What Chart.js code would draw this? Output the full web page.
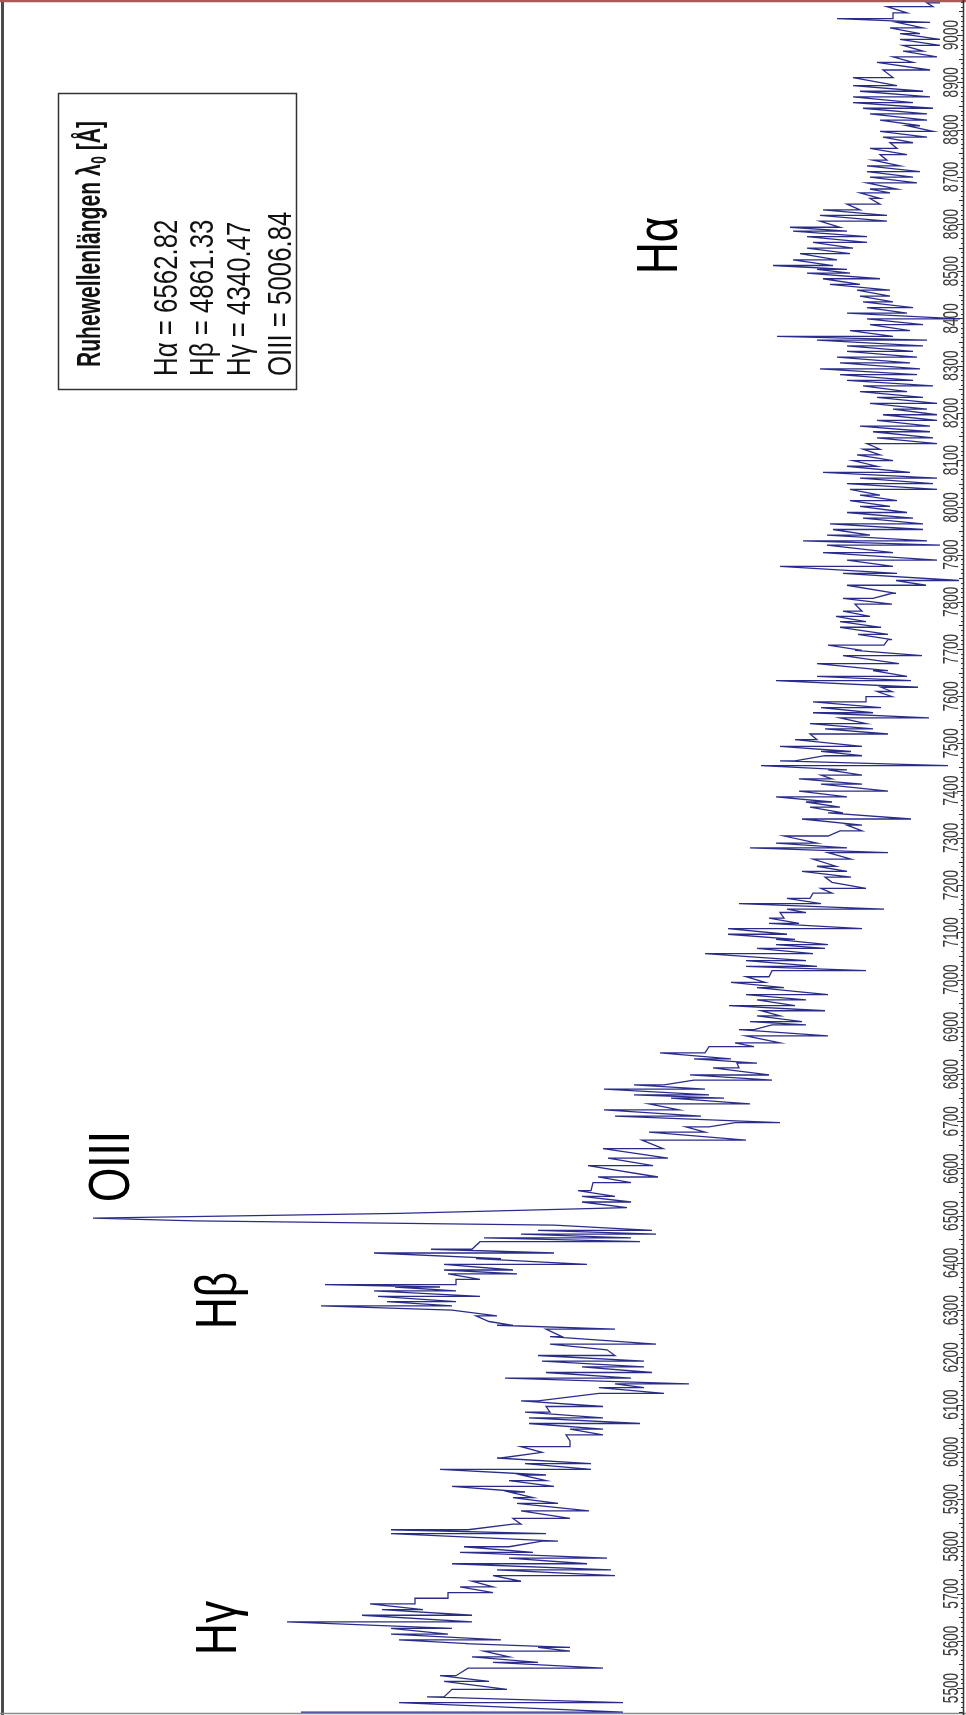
<!DOCTYPE html>
<html>
<head>
<meta charset="utf-8">
<script src="https://cdn.jsdelivr.net/npm/chart.js@4.4.1/dist/chart.umd.min.js"></script>
<style>
  html, body { margin: 0; padding: 0; background: #fff; }
  canvas { display: block; }
</style>
</head>
<body>
<canvas id="spectrum" width="966" height="1715"></canvas>
<script>
// Spectrum, one row per wavelength step:
// wavelength [Å], the high (left) and the low (right) flux of the jitter in that row (arbitrary units)
const lambdaRows = [
  5449, 5469, 5481, 5497, 5514, 5526, 5542, 5554, 5566, 5578, 5586, 5594, 5602, 5614, 5626, 5640,
  5654, 5666, 5678, 5690, 5702, 5714, 5726, 5738, 5750, 5763, 5775, 5787, 5799, 5811, 5827, 5835,
  5847, 5859, 5875, 5891, 5903, 5915, 5927, 5939, 5951, 5963, 5975, 5987, 5999, 6011, 6023, 6036,
  6048, 6060, 6072, 6084, 6096, 6108, 6124, 6136, 6144, 6156, 6168, 6180, 6192, 6204, 6216, 6228,
  6244, 6260, 6268, 6276, 6288, 6300, 6309, 6318, 6329, 6341, 6349, 6354, 6365, 6377, 6385, 6397,
  6409, 6421, 6429, 6445, 6453, 6461, 6469, 6480, 6489, 6495, 6505, 6517, 6529, 6541, 6553, 6570,
  6582, 6606, 6622, 6642,
  6660, 6677, 6688, 6697, 6711, 6724, 6737, 6749, 6756, 6768, 6777, 6787, 6798, 6813, 6823, 6832,
  6845, 6858, 6866, 6881, 6894, 6904, 6911, 6923, 6934, 6945, 6957, 6968, 6983, 6994, 7006, 7019,
  7028, 7040, 7055, 7066, 7074, 7085, 7096, 7108, 7119, 7130, 7142, 7149, 7161, 7172, 7183, 7193,
  7206, 7217, 7229, 7240, 7255, 7269, 7279, 7289, 7304, 7315, 7327, 7340, 7353, 7365, 7376, 7387,
  7399, 7414, 7425, 7433, 7444, 7453, 7463, 7474, 7483, 7494, 7508, 7520, 7531, 7542, 7554, 7565,
  7576, 7588, 7599, 7610, 7619, 7633, 7642, 7654, 7669, 7686, 7697, 7708, 7720, 7731, 7746, 7758,
  7769, 7780, 7795, 7807, 7818, 7835, 7845,
  7860, 7875, 7888, 7904, 7920, 7929, 7941, 7953, 7965, 7977, 7989, 8002, 8014, 8026, 8038, 8050,
  8062, 8074, 8087, 8099, 8111, 8123, 8135, 8147, 8160, 8172, 8184, 8196, 8208, 8220, 8233, 8245,
  8257, 8269, 8281, 8293, 8306, 8318, 8330, 8342, 8354, 8362, 8374, 8387, 8399, 8411, 8423, 8435,
  8447, 8460, 8472, 8484, 8496, 8504, 8512, 8524, 8537, 8549, 8561, 8573, 8585, 8593, 8606, 8618,
  8630, 8642, 8654, 8666, 8674, 8687, 8699, 8711, 8723, 8735, 8747, 8760, 8772, 8784, 8796, 8808,
  8820, 8833, 8845, 8857, 8869, 8881, 8893, 8910, 8926, 8942, 8954, 8966, 8978, 8991, 9003, 9015,
  9027, 9035, 9047, 9060, 9068
];
const fluxHigh = [
  66.2, 56.4, 53.6, 51.1, 51.9, 52.3, 49.5, 47.0, 49.1, 47.9, 42.5, 49.9, 56.4, 57.2, 57.2, 67.6,
  60.1, 58.1, 59.3, 54.8, 51.5, 50.3, 49.1, 47.0, 46.6, 51.1, 45.4, 50.3, 49.9, 42.1, 57.2, 57.2,
  45.0, 45.0, 44.2, 44.6, 45.0, 45.4, 51.1, 45.4, 44.2, 52.3, 43.8, 46.6, 42.1, 44.2, 39.3, 39.7,
  39.3, 43.4, 43.4, 43.8, 41.7, 44.2, 36.4, 36.4, 34.8, 45.8, 41.7, 38.1, 42.1, 42.5, 35.6, 41.3,
  41.3, 41.7, 46.6, 47.4, 48.7, 51.1, 64.2, 57.6, 58.5, 58.9, 56.8, 63.8, 50.7, 51.5, 51.9, 51.9,
  48.7, 58.9, 53.2, 48.3, 47.9, 44.2, 42.5, 40.9, 76.8, 87.0, 56.4, 33.6, 38.1, 38.1, 38.5, 37.0,
  36.5, 37.5, 35.5, 36.0,
  32.1, 31.4, 27.7, 22.8, 34.8, 35.9, 31.4, 29.2, 32.9, 35.9, 32.9, 26.9, 27.3, 25.0, 22.6, 26.9,
  30.3, 25.4, 22.8, 21.7, 22.4, 19.1, 21.3, 20.6, 20.2, 23.4, 20.6, 21.7, 20.6, 23.2, 21.7, 19.1,
  21.7, 21.7, 25.8, 20.6, 18.7, 18.7, 23.5, 23.5, 19.4, 19.4, 18.3, 17.6, 22.4, 17.6, 15.0, 14.2,
  13.1, 13.8, 16.1, 14.6, 15.0, 13.5, 21.3, 18.7, 17.9, 12.3, 11.6, 16.1, 13.5, 15.3, 15.7, 18.7,
  16.4, 14.2, 16.4, 14.2, 13.5, 20.2, 18.3, 13.8, 14.2, 18.3, 16.8, 15.3, 13.8, 15.3, 12.3, 15.0,
  14.2, 15.0, 9.7, 8.6, 8.2, 18.7, 14.6, 9.0, 14.6, 12.0, 10.8, 13.5, 7.5, 10.5, 12.3, 12.3,
  12.7, 12.0, 10.8, 12.0, 7.1, 11.6, 6.7,
  12.0, 18.3, 11.6, 14.0, 13.6, 16.0, 13.6, 13.0, 13.3, 10.0, 11.6, 10.3, 11.3, 10.3, 11.3, 11.6,
  10.3, 14.0, 11.6, 11.0, 10.6, 10.0, 9.6, 8.6, 9.0, 10.3, 8.6, 8.0, 7.0, 9.3, 8.6, 10.3,
  10.0, 11.6, 12.3, 14.3, 12.3, 12.6, 11.6, 11.6, 14.6, 18.6, 11.3, 9.3, 9.6, 11.6, 9.6, 10.0,
  10.3, 10.6, 13.3, 14.0, 15.6, 14.6, 19.0, 17.0, 16.3, 15.6, 15.0, 15.6, 17.0, 17.3, 14.3, 14.3,
  14.0, 11.6, 9.3, 10.3, 9.3, 9.6, 9.3, 9.6, 9.6, 9.0, 8.3, 9.3, 7.3, 8.0, 8.3, 5.6,
  8.3, 9.3, 10.0, 11.0, 11.0, 10.3, 11.0, 11.0, 8.0, 8.6, 7.0, 6.0, 6.0, 6.3, 6.3, 7.3,
  6.6, 12.6, 7.0, 7.6, 3.6
];
const fluxLow = [
  34.0, 34.0, 51.9, 45.6, 47.4, 50.7, 36.0, 42.5, 45.4, 39.3, 39.3, 49.5, 46.2, 51.5, 51.1, 49.1,
  49.1, 54.0, 54.8, 51.5, 47.0, 47.0, 44.2, 34.8, 35.2, 37.6, 35.6, 43.0, 45.4, 40.5, 41.7, 49.5,
  44.2, 39.3, 37.4, 40.5, 43.0, 43.8, 40.9, 41.7, 41.7, 37.2, 37.2, 46.2, 42.1, 39.3, 39.3, 36.0,
  36.0, 32.3, 36.0, 41.3, 36.0, 42.5, 29.9, 31.9, 27.4, 33.2, 31.1, 31.9, 31.9, 34.8, 35.6, 30.7,
  40.1, 34.8, 45.0, 47.4, 46.6, 51.1, 51.1, 50.7, 48.3, 50.7, 52.3, 50.7, 48.3, 44.6, 45.0, 37.6,
  46.2, 40.9, 49.1, 32.3, 33.2, 30.7, 31.1, 40.9, 76.8, 87.0, 56.4, 33.6, 33.2, 34.8, 37.2, 33.2,
  30.5, 31.0, 29.5, 30.0,
  21.7, 25.8, 25.4, 18.3, 26.2, 28.4, 21.3, 23.9, 25.4, 25.8, 29.9, 19.1, 19.4, 22.4, 20.6, 23.2,
  25.8, 20.9, 18.3, 13.5, 20.9, 15.7, 16.1, 18.3, 13.8, 16.8, 15.7, 13.5, 17.9, 19.8, 19.4, 9.7,
  14.6, 15.7, 15.0, 13.8, 13.5, 16.8, 17.6, 10.1, 16.4, 17.9, 15.7, 7.9, 14.2, 15.3, 13.1, 9.7,
  13.1, 11.2, 11.6, 12.7, 11.2, 7.5, 11.6, 14.6, 13.5, 10.1, 10.1, 5.2, 12.0, 12.3, 13.1, 11.6,
  7.5, 10.1, 13.1, 10.1, 11.6, 1.5, 16.8, 10.1, 11.2, 10.1, 14.6, 7.5, 9.0, 9.7, 3.4, 9.0,
  8.2, 9.7, 7.1, 7.1, 4.5, 5.2, 5.6, 7.5, 6.4, 4.1, 10.1, 7.9, 7.1, 7.5, 8.2, 9.7,
  9.3, 10.1, 7.1, 9.0, 6.7, 3.7, 0.4,
  6.6, 7.0, 2.6, 7.0, 2.3, 3.6, 9.3, 4.0, 4.0, 5.0, 5.6, 7.3, 6.6, 8.3, 2.6, 3.0,
  2.6, 5.3, 8.6, 7.0, 8.3, 8.3, 2.6, 3.0, 3.3, 3.3, 2.6, 2.6, 3.6, 2.6, 4.0, 5.6,
  3.0, 5.0, 4.6, 4.3, 5.3, 4.6, 5.0, 4.0, 3.6, 7.0, 5.3, 4.0, 0.3, 5.6, 5.0, 7.0,
  7.3, 7.3, 10.3, 8.3, 11.3, 11.6, 13.0, 12.6, 11.3, 11.0, 9.6, 9.6, 11.6, 12.3, 7.6, 7.6,
  10.3, 8.3, 8.3, 7.3, 6.6, 4.6, 5.0, 4.3, 6.3, 7.6, 5.6, 6.6, 5.0, 3.6, 3.0, 4.3,
  3.6, 3.6, 3.0, 5.0, 3.3, 4.0, 6.6, 7.0, 3.3, 5.0, 2.6, 4.0, 2.3, 2.3, 4.3, 4.0,
  3.3, 7.0, 5.6, 3.0, 2.3
];

// wavelength axis
const tickLabels = [5500, 5600, 5700, 5800, 5900, 6000, 6100, 6200, 6300, 6400, 6500, 6600,
  6700, 6800, 6900, 7000, 7100, 7200, 7300, 7400, 7500, 7600, 7700, 7800, 7900, 8000, 8100,
  8200, 8300, 8400, 8500, 8600, 8700, 8800, 8900, 9000];

// legend box texts
const legendTitle = ['Ruhewellenlängen λ', '0', ' [Å]'];
const legendLines = ['Hα = 6562.82', 'Hβ = 4861.33', 'Hγ = 4340.47', 'OIII = 5006.84'];

// big line labels, anchored in data units (flux at the baseline, wavelength where the text starts)
const lineNames = ['Hα', 'Hβ', 'Hγ', 'OIII'];
const lineNameFlux = [28.6, 72.7, 72.7, 83.4];
const lineNameLambda = [8494, 6260, 5570, 6529];

// build the jagged path: in each row go out to the high flux, then across to the low flux
const points = [];
lambdaRows.forEach((lam, i) => {
  points.push({ x: fluxHigh[i], y: lam });
  points.push({ x: fluxLow[i], y: lam });
});

// text rotated 90° counter clockwise (reads bottom to top), squeezed along the reading direction
function drawUp(ctx, text, x, y, font, squeeze, align) {
  ctx.save();
  ctx.translate(x, y);
  ctx.rotate(-Math.PI / 2);
  ctx.scale(squeeze, 1);
  ctx.font = font;
  ctx.textAlign = align || 'left';
  ctx.textBaseline = 'alphabetic';
  ctx.fillText(text, 0, 0);
  ctx.restore();
}

const axisPlugin = {
  id: 'axisPlugin',
  beforeDatasetsDraw(chart) {
    const ctx = chart.ctx;
    const yS = chart.scales.y;
    const right = chart.chartArea.right;

    ctx.save();
    // frame
    ctx.strokeStyle = '#4a4a4a';
    ctx.lineWidth = 3;
    ctx.beginPath(); ctx.moveTo(2.5, 0); ctx.lineTo(2.5, 1715); ctx.stroke();
    ctx.strokeStyle = '#8a8a8a';
    ctx.lineWidth = 1.5;
    ctx.beginPath(); ctx.moveTo(0, 1713.5); ctx.lineTo(966, 1713.5); ctx.stroke();
    ctx.strokeStyle = '#a65a5a';
    ctx.lineWidth = 2.5;
    ctx.beginPath(); ctx.moveTo(0, 1); ctx.lineTo(966, 1); ctx.stroke();

    // axis line and ticks
    ctx.strokeStyle = '#333';
    ctx.lineWidth = 1.5;
    ctx.beginPath(); ctx.moveTo(right + 0.5, 0); ctx.lineTo(right + 0.5, 1715); ctx.stroke();
    ctx.lineWidth = 1;
    for (let w = Math.ceil(yS.min / 10) * 10; w <= yS.max; w += 10) {
      const py = Math.round(yS.getPixelForValue(w)) + 0.5;
      const len = w % 100 === 0 ? 6 : (w % 50 === 0 ? 4 : 2);
      ctx.beginPath(); ctx.moveTo(right - len, py); ctx.lineTo(right + 1, py); ctx.stroke();
    }
    ctx.fillStyle = '#3a3a3a';
    tickLabels.forEach(v => {
      drawUp(ctx, String(v), right - 5, yS.getPixelForValue(v), '22px "Liberation Sans", Arial, sans-serif', 0.62, 'center');
    });
    ctx.restore();
  },
  afterDraw(chart) {
    const ctx = chart.ctx;
    const xS = chart.scales.x;
    const yS = chart.scales.y;
    ctx.save();

    // legend box
    ctx.strokeStyle = '#333';
    ctx.lineWidth = 1.5;
    ctx.strokeRect(58.5, 93.5, 238, 296);
    ctx.fillStyle = '#111';
    // title with subscript zero
    ctx.save();
    ctx.translate(100, 367);
    ctx.rotate(-Math.PI / 2);
    ctx.scale(0.62, 1);
    ctx.textAlign = 'left';
    ctx.font = 'bold 34px "Liberation Sans", Arial, sans-serif';
    ctx.fillText(legendTitle[0], 0, 0);
    let w = ctx.measureText(legendTitle[0]).width;
    ctx.font = 'bold 22px "Liberation Sans", Arial, sans-serif';
    ctx.fillText(legendTitle[1], w + 1, 6);
    w += ctx.measureText(legendTitle[1]).width + 1;
    ctx.font = 'bold 34px "Liberation Sans", Arial, sans-serif';
    ctx.fillText(legendTitle[2], w, 0);
    ctx.restore();

    const lineX = [177, 213, 250, 291];
    legendLines.forEach((t, i) => {
      drawUp(ctx, t, lineX[i], 376, '34px "Liberation Sans", Arial, sans-serif', 0.76, 'left');
    });

    // big labels of the emission lines
    ctx.fillStyle = '#000';
    lineNames.forEach((t, i) => {
      drawUp(ctx, t, xS.getPixelForValue(lineNameFlux[i]), yS.getPixelForValue(lineNameLambda[i]),
        '58px "Liberation Sans", Arial, sans-serif', 0.76, 'left');
    });
    ctx.restore();
  }
};

new Chart(document.getElementById('spectrum'), {
  type: 'scatter',
  data: {
    datasets: [{
      data: points,
      showLine: true,
      borderColor: '#2a2c8a',
      borderWidth: 1.3,
      pointRadius: 0,
      fill: false,
      tension: 0
    }]
  },
  options: {
    responsive: false,
    animation: false,
    devicePixelRatio: 1,
    layout: { padding: { left: 3, right: 3, top: 2, bottom: 2 } },
    plugins: {
      legend: { display: false },
      tooltip: { enabled: false }
    },
    scales: {
      x: { type: 'linear', min: 0, max: 96, reverse: true, display: false },
      y: { type: 'linear', min: 5447, max: 9070, display: false }
    }
  },
  plugins: [axisPlugin]
});
</script>
</body>
</html>
